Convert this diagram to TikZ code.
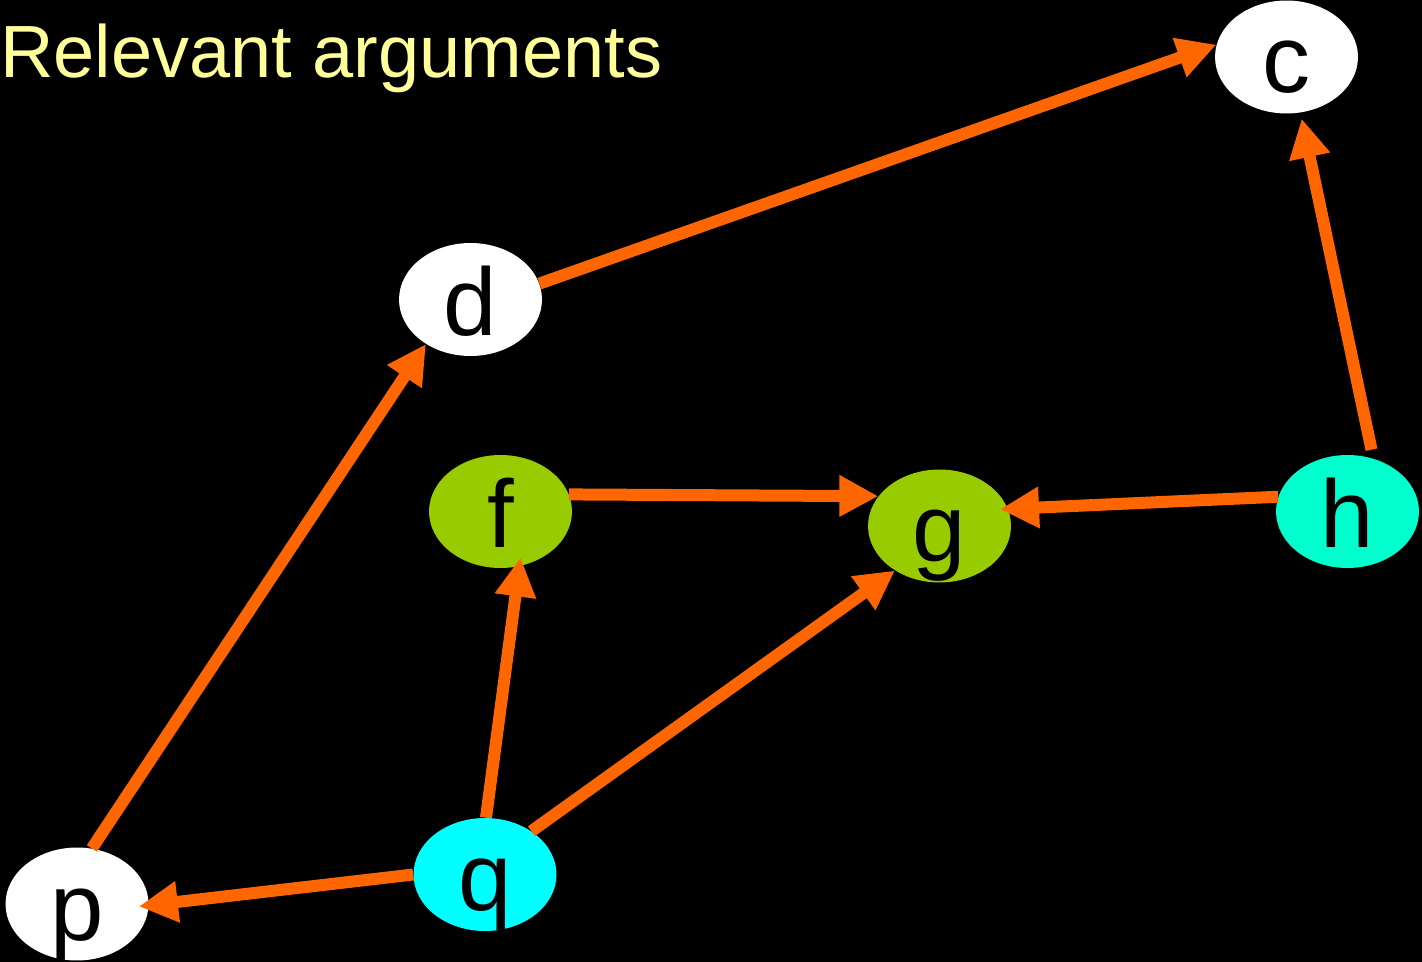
\documentclass[tikz,border=0pt]{standalone}
\usepackage{fontspec}
\setmainfont{Liberation Sans}
\usepackage{xcolor}
\usetikzlibrary{shapes.geometric, arrows.meta}

\definecolor{argorange}{HTML}{FF6600}
\definecolor{arggreen}{HTML}{99CC00}
\definecolor{argcyan}{HTML}{00FFFF}
\definecolor{argaqua}{HTML}{00FFCC}
\definecolor{titleyellow}{HTML}{FFFF99}

\begin{document}
\begin{tikzpicture}[
    x=0.02cm, y=-0.02cm,
    arg/.style={ellipse, draw=none, inner sep=0pt,
                minimum width=2.86cm, minimum height=2.26cm,
                text height=1.44cm, text depth=0pt,
                font=\fontsize{54.6pt}{60pt}\selectfont},
    arr/.style={-{Triangle[length=0.78cm, width=0.78cm]}, line width=0.24cm, draw=argorange}
]
\fill[black] (0,0) rectangle (1422,962);
\useasboundingbox (0,0) rectangle (1422,962);

\node[anchor=base west, inner sep=0pt, text=titleyellow,
      font=\fontsize{42.1pt}{50pt}\selectfont] (title) at (0,78) {Relevant arguments};

\node[arg, fill=white]   (c) at (1286.5,57)  {c};
\node[arg, fill=white]   (d) at (470.5,299.5) {d};
\node[arg, fill=arggreen] (f) at (500.5,511.5) {f};
\node[arg, fill=arggreen] (g) at (939.5,526)  {g};
\node[arg, fill=argaqua]  (h) at (1347.5,511.5) {h};
\node[arg, fill=argcyan]  (q) at (485,874.5)  {q};
\node[arg, fill=white]   (p) at (77,904)     {p};

\draw[arr] (d.13)  -- (c.170);
\draw[arr, shorten <=0.18cm, shorten >=0.12cm] (h.64) -- (c.-76);
\draw[arr, shorten >=-0.16cm] (h.168) -- (g.14);
\draw[arr] (f.14)  -- (g.154);
\draw[arr, shorten >=-0.18cm] (q.89) -- (f.-71);
\draw[arr] (q.43)  -- (g.-135);
\draw[arr, shorten >=-0.2cm] (q.180) -- (p.-1);
\draw[arr] (p.75)  -- (d.-135);
\end{tikzpicture}
\end{document}
